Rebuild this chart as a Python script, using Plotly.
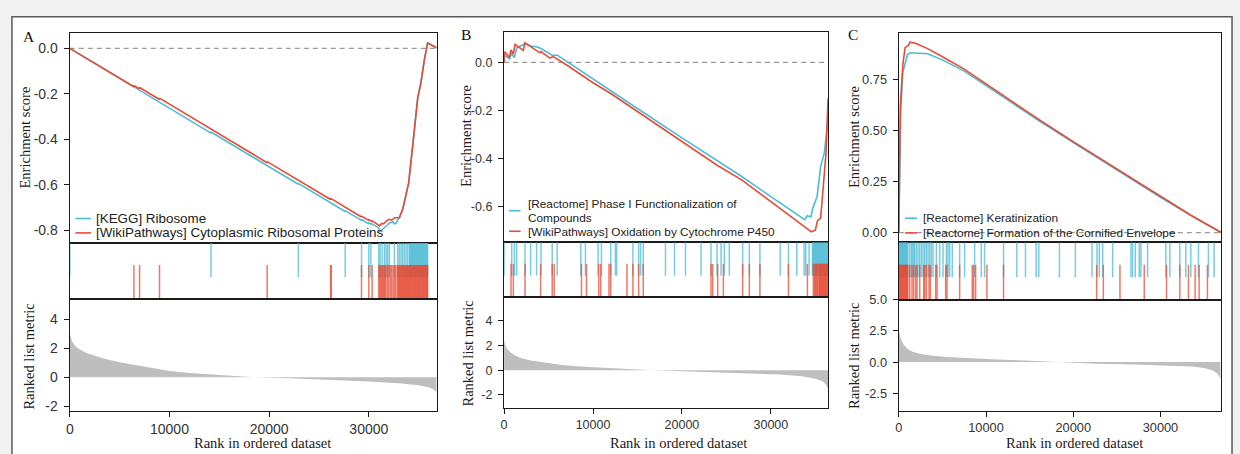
import plotly.graph_objects as go

BLUE = '#4DBBD5'
RED = '#E64B35'
W, H = 1240, 454

# ---------------- Panel A ----------------
A_N = 36800
A_blue_rank = [0, 6430, 14170, 14170, 22930, 22930, 27630, 27630, 29270, 29270, 30000, 30000,
               30200, 30200, 31000, 31070, 31300, 31570, 31900, 32070, 32400, 32570, 32730, 32900,
               33070, 33400, 34000, 34400, 34900, 35230, 35570, 35900, 36800]
A_blue_es = [0, -0.169, -0.373, -0.368, -0.598, -0.594, -0.718, -0.714, -0.757, -0.753, -0.772, -0.768,
             -0.773, -0.769, -0.790, -0.808, -0.800, -0.790, -0.776, -0.768, -0.764, -0.772, -0.770, -0.755,
             -0.745, -0.710, -0.592, -0.430, -0.220, -0.150, -0.050, 0.024, 0.003]
A_red_rank = [0, 6430, 6430, 7000, 7000, 9000, 9000, 19800, 19800, 26170, 26170, 29270, 29270,
              30000, 30000, 30330, 30330, 31000, 31070, 31300, 31500, 31700, 32000, 32300, 32600,
              32900, 33070, 33400, 34000, 34400, 34900, 35230, 35570, 35900, 36800]
A_red_es = [0, -0.169, -0.163, -0.178, -0.172, -0.225, -0.219, -0.503, -0.498, -0.665, -0.660, -0.742, -0.738,
            -0.757, -0.753, -0.762, -0.758, -0.776, -0.781, -0.770, -0.772, -0.762, -0.752, -0.756, -0.745,
            -0.745, -0.743, -0.707, -0.592, -0.430, -0.220, -0.150, -0.050, 0.024, 0.003]
A_blue_hits = [0, 14170, 22930, 27630, 29270, 30000, 30200, 31000, 31133, 31333, 31567, 31733, 31900,
               32067, 32567, 32900, 33067, 33233, 33400, 33567, 33733, 33900,
               34067, 34150, 34230, 34310, 34390, 34470, 34550, 34630, 34710, 34790, 34870, 34950,
               35030, 35110, 35190, 35270, 35350, 35430, 35510, 35590, 35670, 35750, 35830, 35900]
A_red_hits = [6433, 7000, 9000, 19800, 26167, 26230, 29267, 30000, 30333,
              31000, 31100, 31200, 31300, 31400, 31500, 31600, 31700, 31850, 32000, 32150, 32300,
              32450, 32600, 32733, 32900, 32980, 33060, 33140, 33220, 33300, 33380, 33460, 33540,
              33620, 33700, 33780, 33860, 33940, 34020, 34100, 34180, 34260, 34340, 34420, 34500,
              34580, 34660, 34740, 34820, 34900, 34980, 35060, 35140, 35220, 35300, 35380, 35460,
              35540, 35620, 35700, 35780, 35860, 35900]
A_metric_rank = [0, 230, 570, 1000, 1730, 2500, 3400, 5000, 6730, 8500, 10000, 12000, 15000, 18500,
                 22000, 26000, 30000, 33000, 35000, 36000, 36500, 36800]
A_metric_val = [3.0, 2.47, 2.13, 1.9, 1.64, 1.45, 1.28, 1.03, 0.83, 0.6, 0.42, 0.29, 0.15, 0.0,
                -0.08, -0.17, -0.3, -0.42, -0.55, -0.7, -0.85, -1.05]
A_legend = ['[KEGG] Ribosome', '[WikiPathways] Cytoplasmic Ribosomal Proteins']

# ---------------- Panel B ----------------
B_N = 36430
B_blue_rank = [0, 40, 590, 850, 1150, 1420, 2350, 3000, 3650, 4150, 5400, 6000, 7000, 10000, 15500,
               20000, 26720, 30000, 33000, 33810, 34100, 34500, 34700, 35200, 35600, 36000, 36430]
B_blue_es = [0.0, 0.03, 0.015, 0.035, 0.02, 0.06, 0.078, 0.068, 0.065, 0.058, 0.03, 0.03, 0.005, -0.07, -0.205,
             -0.315, -0.476, -0.56, -0.635, -0.656, -0.64, -0.645, -0.61, -0.56, -0.435, -0.38, -0.24]
B_red_rank = [0, 40, 590, 780, 1040, 1230, 2160, 2350, 4030, 4150, 5150, 5520, 7000, 10000, 12000,
              15500, 20000, 24000, 26720, 30000, 33500, 34560, 35000, 35250, 35600, 35900, 36200, 36430]
B_red_es = [0.0, 0.045, 0.02, 0.052, 0.034, 0.075, 0.05, 0.082, 0.04, 0.045, 0.018, 0.024, -0.01, -0.085, -0.13,
            -0.218, -0.33, -0.43, -0.49, -0.58, -0.675, -0.707, -0.70, -0.66, -0.65, -0.52, -0.38, -0.15]
B_blue_hits = [0, 855, 1155, 1417, 2356, 2986, 3657, 4150, 5412, 5972, 8630, 9150, 10570, 10950, 11990,
               12520, 12660, 14490, 15130, 15350, 15650, 18150, 19170, 20400, 22150, 23270, 23950, 24400,
               24770, 25330, 26830, 27580, 28770, 31050, 31980, 32920, 33740, 33930, 34300,
               34670, 34760, 34850, 34940, 35030, 35120, 35210, 35300, 35390, 35480, 35570, 35660,
               35750, 35840, 35930, 36020, 36110, 36200, 36290, 36350]
B_red_hits = [781, 1042, 2356, 4107, 5412, 5636, 8704, 9265, 10650, 10870, 11800, 11990, 13820, 14490,
              15130, 15650, 23270, 23460, 24020, 24660, 26830, 27580, 28770, 31980, 34110,
              34780, 34900, 35000, 35100, 35200, 35300, 35420, 35500, 35580, 35660, 35740, 35820,
              35900, 35980, 36060, 36140, 36220, 36300, 36380]
B_metric_rank = [0, 100, 300, 700, 1200, 1800, 3000, 4500, 6500, 9000, 12000, 14500, 16600, 20000,
                 24000, 28000, 31000, 33500, 35000, 35800, 36200, 36430]
B_metric_val = [2.5, 2.1, 1.75, 1.45, 1.2, 1.0, 0.78, 0.6, 0.42, 0.27, 0.14, 0.06, 0.0, -0.08,
                -0.17, -0.26, -0.36, -0.5, -0.7, -0.9, -1.15, -1.5]
B_legend = ['[Reactome] Phase I Functionalization of', 'Compounds',
            '[WikiPathways] Oxidation by Cytochrome P450']

# ---------------- Panel C ----------------
C_N = 36950
C_blue_rank = [0, 200, 460, 1000, 1300, 2500, 3300, 5000, 7500, 12000, 16000, 20000, 26500, 30000,
               33500, 36870, 36950]
C_blue_es = [0, 0.58, 0.785, 0.87, 0.88, 0.878, 0.875, 0.845, 0.79, 0.663, 0.549, 0.44, 0.266, 0.172,
             0.083, 0.002, 0.0]
C_red_rank = [0, 180, 460, 720, 1100, 1290, 2000, 3300, 5000, 7500, 12000, 16000, 20000, 26500, 30000,
              33500, 36870, 36950]
C_red_es = [0, 0.62, 0.82, 0.905, 0.916, 0.932, 0.925, 0.90, 0.86, 0.80, 0.67, 0.555, 0.445, 0.27, 0.175,
            0.085, 0.003, 0.0]
C_blue_hits = [0, 80, 160, 240, 320, 400, 480, 560, 640, 720, 800, 880, 960, 1040, 1255, 1446, 1560,
               1712, 1827, 2017, 2208, 2399, 2589, 2780, 2971, 3161, 3352, 3543, 3733, 3924, 4306, 4687,
               5068, 5450, 5640, 5831, 6136, 6976, 7548, 8692, 9455, 9836, 12010, 13536, 14527, 15748,
               16053, 18417, 20248, 22155, 22727, 22994, 23375, 24520, 26617, 26808, 27113, 27570,
               27761, 28524, 30621, 31079, 32223, 32909, 33481, 34358, 35502, 36150]
C_red_hits = [0, 80, 160, 240, 320, 400, 480, 560, 640, 720, 800, 880, 960, 1040, 1255, 1522, 1712,
              1941, 2094, 2399, 2856, 2971, 3161, 3466, 3619, 4229, 4382, 5373, 5526, 6976, 8425,
              8578, 8807, 10103, 12010, 22689, 23451, 25358, 28142, 30697, 32223, 33214, 33977,
              34435, 35388]
C_metric_rank = [0, 100, 300, 600, 1000, 1600, 2500, 3700, 5500, 8000, 11300, 14500, 18000, 22700,
                 27000, 31000, 33500, 35000, 36000, 36500, 36870]
C_metric_val = [2.65, 2.2, 1.75, 1.35, 1.05, 0.82, 0.65, 0.52, 0.4, 0.3, 0.21, 0.12, 0.0, -0.13,
                -0.2, -0.27, -0.35, -0.48, -0.68, -0.9, -1.32]
C_legend = ['[Reactome] Keratinization', '[Reactome] Formation of the Cornified Envelope']

X_TICKS = [0, 10000, 20000, 30000]
X_TICKTEXT = ['0', '10000', '20000', '30000']
A_ES_TICKS = [-0.8, -0.6, -0.4, -0.2, 0.0]
A_ES_TEXT = ['-0.8', '-0.6', '-0.4', '-0.2', '0.0']
B_ES_TICKS = [-0.6, -0.4, -0.2, 0.0]
B_ES_TEXT = ['-0.6', '-0.4', '-0.2', '0.0']
C_ES_TICKS = [0.0, 0.25, 0.5, 0.75]
C_ES_TEXT = ['0.00', '0.25', '0.50', '0.75']
AB_MET_TICKS = [-2, 0, 2, 4]
AB_MET_TEXT = ['-2', '0', '2', '4']
C_MET_TICKS = [-2.5, 0, 2.5, 5.0]
C_MET_TEXT = ['-2.5', '0.0', '2.5', '5.0']

SANS = 'Liberation Sans, Arial, sans-serif'
SERIF = 'Liberation Serif, Times New Roman, serif'
AXC = '#1a1a1a'


def px(x):
    return x / W


def py(y):
    return 1 - y / H


panels = [
    dict(N=A_N, br=A_blue_rank, be=A_blue_es, rr=A_red_rank, re=A_red_es, bh=A_blue_hits, rh=A_red_hits,
         mr=A_metric_rank, mv=A_metric_val, x0=66, x1=434, es=(27, 241), rug=(241, 299), met=(299, 413),
         es_range=[-0.855, 0.066], es_t=A_ES_TICKS, es_tt=A_ES_TEXT, met_range=[-2.32, 5.35],
         met_t=AB_MET_TICKS, met_tt=AB_MET_TEXT, tickfs=14, letter='A', letter_xy=(25, 30),
         es_title_x=21.5, met_title_x=25.5, xtitle_x=259, xtitle_y=446),
    dict(N=B_N, br=B_blue_rank, be=B_blue_es, rr=B_red_rank, re=B_red_es, bh=B_blue_hits, rh=B_red_hits,
         mr=B_metric_rank, mv=B_metric_val, x0=501.7, x1=826.7, es=(26, 240.7), rug=(240.7, 296.7),
         met=(296.7, 410), es_range=[-0.751, 0.125], es_t=B_ES_TICKS, es_tt=B_ES_TEXT,
         met_range=[-3.05, 5.89], met_t=AB_MET_TICKS, met_tt=AB_MET_TEXT, tickfs=12.5, letter='B',
         letter_xy=(463, 28), es_title_x=464, met_title_x=465.5, xtitle_x=677, xtitle_y=446),
    dict(N=C_N, br=C_blue_rank, be=C_blue_es, rr=C_red_rank, re=C_red_es, bh=C_blue_hits, rh=C_red_hits,
         mr=C_metric_rank, mv=C_metric_val, x0=897.7, x1=1221, es=(26.7, 240.7), rug=(240.7, 299.3),
         met=(299.3, 412.7), es_range=[-0.048, 0.976], es_t=C_ES_TICKS, es_tt=C_ES_TEXT,
         met_range=[-3.9, 5.005], met_t=C_MET_TICKS, met_tt=C_MET_TEXT, tickfs=12.8, letter='C',
         letter_xy=(852, 28), es_title_x=853, met_title_x=852.5, xtitle_x=1074, xtitle_y=446),
]

fig = go.Figure()
layout = {}
annotations = []
shapes = []

# outer white frame
shapes.append(dict(type='rect', xref='paper', yref='paper', x0=px(8), x1=px(1232), y0=py(470), y1=py(10),
                   fillcolor='white', line=dict(color='#5a5a5a', width=1.5), layer='below'))

for i, p in enumerate(panels):
    nes, nrug, nmet = 3 * i + 1, 3 * i + 2, 3 * i + 3
    ax = lambda n: ('x' if n == 1 else f'x{n}')
    ay = lambda n: ('y' if n == 1 else f'y{n}')
    xdom = [px(p['x0']), px(p['x1'])]
    N = p['N']

    # zero line
    fig.add_trace(go.Scatter(x=[0, N], y=[0, 0], mode='lines', xaxis=ax(nes), yaxis=ay(nes),
                             line=dict(color='#9a9a9a', width=1.3, dash='5px,4px'),
                             hoverinfo='skip', showlegend=False))
    # ES curves
    fig.add_trace(go.Scatter(x=p['br'], y=p['be'], mode='lines', xaxis=ax(nes), yaxis=ay(nes),
                             line=dict(color=BLUE, width=1.6), showlegend=False))
    fig.add_trace(go.Scatter(x=p['rr'], y=p['re'], mode='lines', xaxis=ax(nes), yaxis=ay(nes),
                             line=dict(color=RED, width=1.6), showlegend=False))
    # rug
    half = (p['rug'][1] - p['rug'][0]) / 2
    fig.add_trace(go.Scatter(x=p['bh'], y=[1.5] * len(p['bh']), mode='markers', xaxis=ax(nrug), yaxis=ay(nrug),
                             marker=dict(symbol='line-ns', size=half, opacity=0.75,
                                         line=dict(color=BLUE, width=1.5)),
                             showlegend=False, cliponaxis=True))
    fig.add_trace(go.Scatter(x=p['rh'], y=[0.5] * len(p['rh']), mode='markers', xaxis=ax(nrug), yaxis=ay(nrug),
                             marker=dict(symbol='line-ns', size=half, opacity=0.75,
                                         line=dict(color=RED, width=1.5)),
                             showlegend=False, cliponaxis=True))
    # metric
    fig.add_trace(go.Scatter(x=p['mr'], y=p['mv'], mode='lines', xaxis=ax(nmet), yaxis=ay(nmet),
                             fill='tozeroy', fillcolor='#BEBEBE', line=dict(width=0, color='#BEBEBE'),
                             showlegend=False))

    base_x = dict(domain=xdom, range=[0, N], showgrid=False, zeroline=False, showline=True, mirror=True,
                  linecolor=AXC, linewidth=1.4)
    layout['xaxis' if nes == 1 else f'xaxis{nes}'] = dict(base_x, anchor=ay(nes), showticklabels=False, ticks='')
    layout[f'xaxis{nrug}'] = dict(base_x, anchor=ay(nrug), showticklabels=False, ticks='')
    layout[f'xaxis{nmet}'] = dict(base_x, anchor=ay(nmet), ticks='outside', ticklen=5, tickwidth=1.2,
                                  tickcolor=AXC, tickvals=X_TICKS, ticktext=X_TICKTEXT,
                                  tickfont=dict(family=SANS, size=p['tickfs'], color='#333333'))
    base_y = dict(showgrid=False, zeroline=False, showline=True, mirror=True, linecolor=AXC, linewidth=1.4)
    layout['yaxis' if nes == 1 else f'yaxis{nes}'] = dict(
        base_y, domain=[py(p['es'][1]), py(p['es'][0])], anchor=ax(nes), range=p['es_range'],
        ticks='outside', ticklen=5, tickwidth=1.2, tickcolor=AXC, tickvals=p['es_t'], ticktext=p['es_tt'],
        ticklabelstandoff=3, tickfont=dict(family=SANS, size=p['tickfs'], color='#333333'))
    layout[f'yaxis{nrug}'] = dict(base_y, domain=[py(p['rug'][1]), py(p['rug'][0])], anchor=ax(nrug),
                                  range=[0, 2], showticklabels=False, ticks='')
    layout[f'yaxis{nmet}'] = dict(
        base_y, domain=[py(p['met'][1]), py(p['met'][0])], anchor=ax(nmet), range=p['met_range'],
        ticks='outside', ticklen=5, tickwidth=1.2, tickcolor=AXC, tickvals=p['met_t'], ticktext=p['met_tt'],
        ticklabelstandoff=3, tickfont=dict(family=SANS, size=p['tickfs'], color='#333333'))

    # titles
    annotations.append(dict(text='Enrichment score', x=px(p['es_title_x']), y=py((p['es'][0] + p['es'][1]) / 2 - 1),
                            xref='paper', yref='paper', textangle=-90, showarrow=False,
                            font=dict(family=SERIF, size=14.5, color='#1a1a1a'), xanchor='center', yanchor='middle'))
    annotations.append(dict(text='Ranked list metric', x=px(p['met_title_x']),
                            y=py((p['met'][0] + p['met'][1]) / 2 + 1),
                            xref='paper', yref='paper', textangle=-90, showarrow=False,
                            font=dict(family=SERIF, size=14.5, color='#1a1a1a'), xanchor='center', yanchor='middle'))
    annotations.append(dict(text='Rank in ordered dataset', x=px(p['xtitle_x']), y=py(p['xtitle_y']),
                            xref='paper', yref='paper', showarrow=False,
                            font=dict(family=SERIF, size=14.5, color='#1a1a1a'), xanchor='center', yanchor='middle'))
    annotations.append(dict(text=p['letter'], x=px(p['letter_xy'][0]), y=py(p['letter_xy'][1]),
                            xref='paper', yref='paper', showarrow=False,
                            font=dict(family=SERIF, size=15.5, color='#111111'), xanchor='center', yanchor='middle'))


def legend_item(x_line0, x_line1, y_line, color):
    shapes.append(dict(type='line', xref='paper', yref='paper', x0=px(x_line0), x1=px(x_line1),
                       y0=py(y_line), y1=py(y_line), line=dict(color=color, width=1.6)))


def legend_text(text, x, y, size):
    annotations.append(dict(text=text, x=px(x), y=py(y), xref='paper', yref='paper', showarrow=False,
                            xanchor='left', yanchor='middle',
                            font=dict(family=SANS, size=size, color='#222222')))


# Legend A
legend_item(71.7, 87.3, 216.3, BLUE)
legend_text(A_legend[0], 90.5, 216.3, 13.4)
legend_item(71.7, 87.3, 231, RED)
legend_text(A_legend[1], 90.5, 231, 13.4)
# Legend B
legend_item(506.7, 518.3, 208.3, BLUE)
legend_text(B_legend[0], 524, 201.7, 11.8)
legend_text(B_legend[1], 524, 216, 11.8)
legend_item(506.7, 518.3, 229.3, RED)
legend_text(B_legend[2], 524, 230, 11.8)
# Legend C
legend_item(904, 916, 216, BLUE)
legend_text(C_legend[0], 919.5, 216, 11.8)
legend_item(904, 916, 231, RED)
legend_text(C_legend[1], 919.5, 231, 11.8)

fig.update_layout(width=W, height=H, margin=dict(l=0, r=0, t=0, b=0), paper_bgcolor='#f1f1f1',
                  plot_bgcolor='rgba(0,0,0,0)', showlegend=False, annotations=annotations, shapes=shapes,
                  hovermode=False, **layout)

fig.write_html('out.html', config={'displayModeBar': False},
               post_script="document.body.style.margin='0px';document.body.style.overflow='hidden';")
